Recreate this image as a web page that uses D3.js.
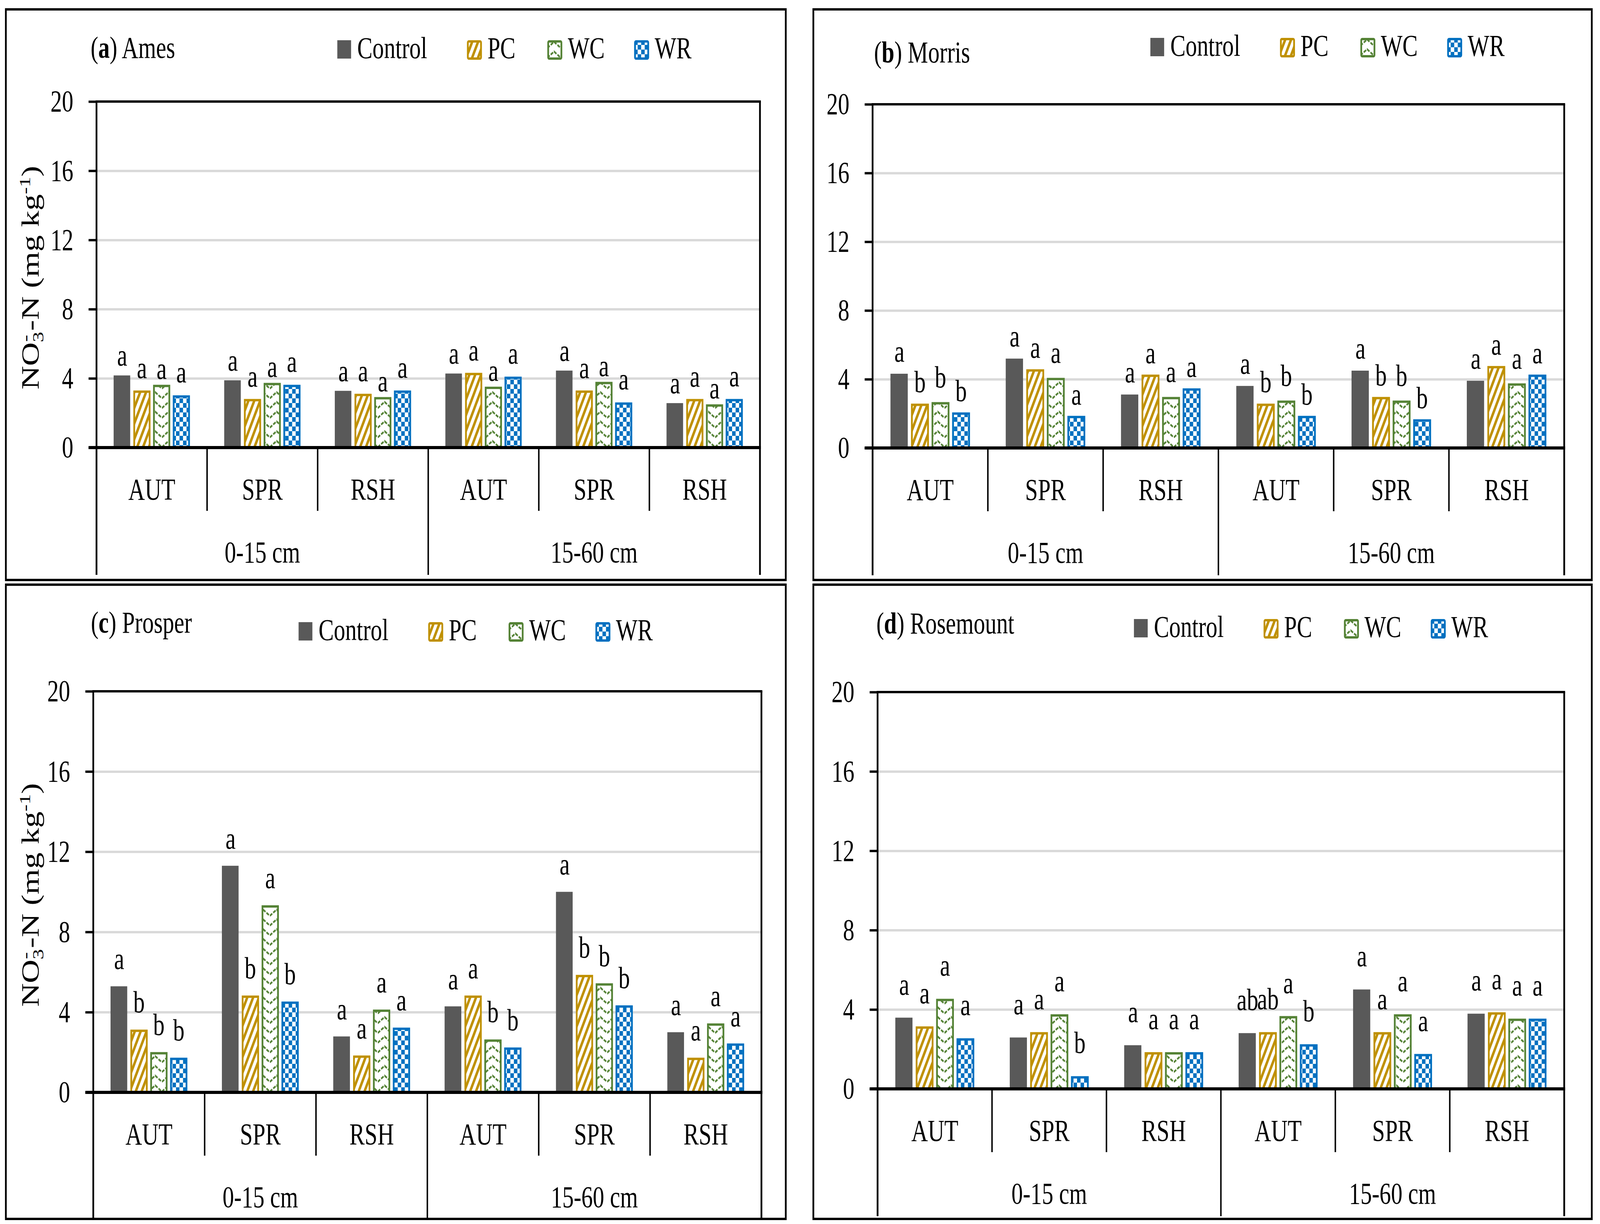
<!DOCTYPE html>
<html>
<head>
<meta charset="utf-8">
<script src="https://cdn.jsdelivr.net/npm/d3@7"></script>
<style>
  html, body { margin: 0; padding: 0; background: #fff; overflow: hidden; }
  svg { display: block; }
  text { font-family: 'Liberation Serif', 'Times New Roman', serif; fill: #000; }
</style>
</head>
<body>
<div id="chart"></div>
<script>
// ---- data ----
var treatments = ['Control', 'PC', 'WC', 'WR'];
var seasons = ['AUT', 'SPR', 'RSH'];
var depths = ['0-15 cm', '15-60 cm'];
var yTicks = [0, 4, 8, 12, 16, 20];

// rows follow treatments, columns: AUT SPR RSH (0-15 cm) then AUT SPR RSH (15-60 cm)
var ames = [
  [4.17, 3.89, 3.28, 4.28, 4.45, 2.57],
  [3.30, 2.81, 3.11, 4.32, 3.30, 2.81],
  [3.63, 3.74, 2.92, 3.52, 3.80, 2.50],
  [3.02, 3.63, 3.30, 4.10, 2.61, 2.81]
];
var amesLetters = [
  ['a', 'a', 'a', 'a', 'a', 'a'],
  ['a', 'a', 'a', 'a', 'a', 'a'],
  ['a', 'a', 'a', 'a', 'a', 'a'],
  ['a', 'a', 'a', 'a', 'a', 'a']
];
var morris = [
  [4.32, 5.20, 3.11, 3.61, 4.50, 3.91],
  [2.58, 4.58, 4.27, 2.58, 2.97, 4.77],
  [2.67, 4.08, 2.97, 2.76, 2.76, 3.76],
  [2.07, 1.87, 3.47, 1.87, 1.67, 4.27]
];
var morrisLetters = [
  ['a', 'a', 'a', 'a', 'a', 'a'],
  ['b', 'a', 'a', 'b', 'b', 'a'],
  ['b', 'a', 'a', 'b', 'b', 'a'],
  ['b', 'a', 'a', 'b', 'b', 'a']
];
var prosper = [
  [5.29, 11.30, 2.79, 4.29, 10.00, 3.00],
  [3.13, 4.83, 1.84, 4.83, 5.86, 1.73],
  [2.01, 9.33, 4.13, 2.64, 5.44, 3.44],
  [1.73, 4.53, 3.23, 2.24, 4.34, 2.44]
];
var prosperLetters = [
  ['a', 'a', 'a', 'a', 'a', 'a'],
  ['b', 'b', 'a', 'a', 'b', 'a'],
  ['b', 'a', 'a', 'b', 'b', 'a'],
  ['b', 'b', 'a', 'b', 'b', 'a']
];
var rosemount = [
  [3.59, 2.59, 2.20, 2.81, 5.01, 3.79],
  [3.15, 2.86, 1.85, 2.86, 2.86, 3.86],
  [4.54, 3.76, 1.85, 3.67, 3.76, 3.54],
  [2.55, 0.64, 1.85, 2.25, 1.76, 3.54]
];
var rosemountLetters = [
  ['a', 'a', 'a', 'ab', 'a', 'a'],
  ['a', 'a', 'a', 'ab', 'a', 'a'],
  ['a', 'a', 'a', 'a', 'a', 'a'],
  ['a', 'b', 'a', 'b', 'a', 'a']
];

// ---- layout ----
var W = 5455, H = 3134;
var colors = { Control: '#595959', PC: '#BF9000', WC: '#548235', WR: '#0070C0' };
var fills = { Control: '#595959', PC: 'url(#patPC)', WC: 'url(#patWC)', WR: 'url(#patWR)' };
var legendOffsets = [0, 442, 716, 1012];
var fontSize = 78;

var panels = [
  { tag: 'a', name: 'Ames', values: ames, letters: amesLetters,
    frame: [20, 24, 2679, 1485], plot: [329, 2591, 260, 1146],
    title: [309, 148], legend: [1150, 103], ylabel: true, lab: [25, 32, 15, 33] },
  { tag: 'b', name: 'Morris', values: morris, letters: morrisLetters,
    frame: [2773, 24, 5427, 1485], plot: [2975, 5333, 267, 1147],
    title: [2980, 160], legend: [3922, 97], ylabel: false, lab: [31, 29, 38, 29] },
  { tag: 'c', name: 'Prosper', values: prosper, letters: prosperLetters,
    frame: [20, 1497, 2679, 3121], plot: [318, 2596, 1770, 2797],
    title: [310, 1620], legend: [1018, 1593], ylabel: true, lab: [44, 44, 44, 44] },
  { tag: 'd', name: 'Rosemount', values: rosemount, letters: rosemountLetters,
    frame: [2773, 1497, 5427, 3121], plot: [2992, 5333, 1772, 2788],
    title: [2988, 1622], legend: [3866, 1585], ylabel: false, lab: [59, 59, 59, 59] }
];

// fit whatever the window really is
var vw = window.innerWidth || W, vh = window.innerHeight || H;
var svg = d3.select('#chart').append('svg')
    .attr('width', vw)
    .attr('height', vh)
    .attr('viewBox', '0 0 ' + W + ' ' + H)
    .attr('preserveAspectRatio', 'none');

svg.append('rect').attr('width', W).attr('height', H).attr('fill', '#fff');

// patterns
var defs = svg.append('defs');
var pc = defs.append('pattern').attr('id', 'patPC')
    .attr('patternUnits', 'userSpaceOnUse').attr('width', 20).attr('height', 40);
pc.append('rect').attr('width', 20).attr('height', 40).attr('fill', '#fff');
pc.append('path')
    .attr('d', 'M-10,60 L30,-20 M-10,20 L10,-20 M10,60 L30,20')
    .attr('stroke', colors.PC).attr('stroke-width', 8);

var wc = defs.append('pattern').attr('id', 'patWC')
    .attr('patternUnits', 'userSpaceOnUse').attr('width', 46).attr('height', 25);
wc.append('rect').attr('width', 46).attr('height', 25).attr('fill', '#fff');
wc.append('path')
    .attr('d', 'M0,20 L23,4 L46,20')
    .attr('fill', 'none')
    .attr('stroke', '#548235').attr('stroke-width', 5)
    .attr('stroke-dasharray', '10 4');

var wr = defs.append('pattern').attr('id', 'patWR')
    .attr('patternUnits', 'userSpaceOnUse').attr('width', 24).attr('height', 24);
wr.append('rect').attr('width', 24).attr('height', 24).attr('fill', '#fff');
wr.append('rect').attr('width', 12).attr('height', 12).attr('fill', colors.WR);
wr.append('rect').attr('x', 12).attr('y', 12).attr('width', 12).attr('height', 12).attr('fill', colors.WR);

var cats = d3.cross(depths, seasons);   // [depth, season]

function drawPanel(p) {
    var g = svg.append('g');
    var px0 = p.plot[0], px1 = p.plot[1], py0 = p.plot[2], py1 = p.plot[3];

    var y = d3.scaleLinear().domain([0, 20]).range([py1, py0]);
    var x = d3.scaleBand().domain(d3.range(cats.length)).range([px0, px1]);
    var bw = x.bandwidth();
    var xs = d3.scaleBand().domain(treatments)
        .range([0.155 * bw, 0.845 * bw]).paddingInner(0.13);

    // frame
    g.append('rect')
        .attr('x', p.frame[0]).attr('y', p.frame[1])
        .attr('width', p.frame[2] - p.frame[0]).attr('height', p.frame[3] - p.frame[1])
        .attr('fill', 'none').attr('stroke', '#000').attr('stroke-width', 6);

    // gridlines
    var grid = g.append('g').attr('transform', 'translate(' + px0 + ',0)')
        .call(d3.axisLeft(y).tickValues(yTicks.slice(1, -1)).tickSize(-(px1 - px0)).tickFormat(''));
    grid.select('.domain').remove();
    grid.selectAll('line').attr('stroke', '#D9D9D9').attr('stroke-width', 6);

    // bars
    var rows = [];
    p.values.forEach(function (row, si) {
        row.forEach(function (v, ci) {
            rows.push({ s: treatments[si], si: si, ci: ci, v: v, l: p.letters[si][ci] });
        });
    });

    g.selectAll('rect.bar')
        .data(rows)
        .enter()
        .append('rect')
        .attr('class', 'bar')
        .attr('x', function (d) { return x(d.ci) + xs(d.s) + (d.s === 'Control' ? 0 : 3); })
        .attr('y', function (d) { return y(d.v) + (d.s === 'Control' ? 0 : 3); })
        .attr('width', function (d) { return xs.bandwidth() - (d.s === 'Control' ? 2 : 6); })
        .attr('height', function (d) { return y(0) - y(d.v) - (d.s === 'Control' ? 0 : 3); })
        .attr('fill', function (d) { return fills[d.s]; })
        .attr('stroke', function (d) { return d.s === 'Control' ? 'none' : colors[d.s]; })
        .attr('stroke-width', 6);

    // letters
    g.selectAll('text.lt')
        .data(rows)
        .enter()
        .append('text')
        .attr('class', 'lt')
        .attr('x', function (d) { return x(d.ci) + xs(d.s) + xs.bandwidth() / 2; })
        .attr('y', function (d) { return y(d.v) - p.lab[d.si]; })
        .attr('text-anchor', 'middle')
        .style('font-size', fontSize + 'px')
        .text(function (d) { return d.l; });

    // y axis ticks + labels
    var ya = g.append('g').attr('transform', 'translate(' + px0 + ',0)')
        .call(d3.axisLeft(y).tickValues(yTicks).tickSize(27).tickPadding(52));
    ya.select('.domain').remove();
    ya.selectAll('line').attr('stroke', '#000').attr('stroke-width', 6);
    ya.selectAll('text')
        .attr('fill', '#000')
        .style('font-family', "'Liberation Serif', serif")
        .style('font-size', '78px');

    // plot top
    g.append('line').attr('x1', px0 - 3).attr('x2', px1 + 3).attr('y1', py0).attr('y2', py0)
        .attr('stroke', '#000').attr('stroke-width', 6);
    var outerBottom = y(0) + 326, innerBottom = y(0) + 162;

    // left axis, right border, category separators
    d3.range(cats.length + 1).forEach(function (i) {
        var xx = i < cats.length ? x(i) : px1;
        var edge = (i === 0 || i === cats.length);
        var outer = (i % 3 === 0);
        g.append('line')
            .attr('x1', xx).attr('x2', xx)
            .attr('y1', edge ? py0 : y(0)).attr('y2', outer ? outerBottom : innerBottom)
            .attr('stroke', '#000').attr('stroke-width', edge ? 6 : 5);
    });

    // zero line
    g.append('line').attr('x1', px0 - 27).attr('x2', px1 + 3).attr('y1', y(0)).attr('y2', y(0))
        .attr('stroke', '#000').attr('stroke-width', 8);

    // category labels
    g.selectAll('text.season')
        .data(cats)
        .enter()
        .append('text')
        .attr('class', 'season')
        .attr('x', function (d, i) { return x(i) + bw / 2; })
        .attr('y', y(0) + 133)
        .attr('text-anchor', 'middle')
        .style('font-size', fontSize + 'px')
        .text(function (d) { return d[1]; });

    g.selectAll('text.depth')
        .data(depths)
        .enter()
        .append('text')
        .attr('class', 'depth')
        .attr('x', function (d, i) { return x(i * 3) + bw * 1.5; })
        .attr('y', y(0) + 294)
        .attr('text-anchor', 'middle')
        .style('font-size', fontSize + 'px')
        .text(function (d) { return d; });

    // title
    var t = g.append('text')
        .attr('x', p.title[0]).attr('y', p.title[1])
        .style('font-size', fontSize + 'px');
    t.append('tspan').text('(');
    t.append('tspan').style('font-weight', 'bold').text(p.tag);
    t.append('tspan').text(') ' + p.name);

    // legend
    var lg = g.selectAll('g.leg')
        .data(treatments)
        .enter()
        .append('g')
        .attr('class', 'leg')
        .attr('transform', function (d, i) {
            return 'translate(' + [p.legend[0] + legendOffsets[i], p.legend[1]] + ')';
        });
    lg.append('rect')
        .attr('x', function (d) { return d === 'Control' ? 0 : 3; })
        .attr('y', function (d) { return d === 'Control' ? 0 : 3; })
        .attr('width', function (d) { return d === 'Control' ? 47 : 45; })
        .attr('height', function (d) { return d === 'Control' ? 47 : 44; })
        .attr('rx', function (d) { return d === 'Control' ? 0 : 3; })
        .attr('fill', function (d) { return fills[d]; })
        .attr('stroke', function (d) { return d === 'Control' ? 'none' : colors[d]; })
        .attr('stroke-width', 6);
    lg.append('text')
        .attr('x', function (d) { return d === 'Control' ? 68 : 70; })
        .attr('y', 46)
        .style('font-size', fontSize + 'px')
        .text(function (d) { return d; });

    // y label, centred on the plot by its own measured length
    if (p.ylabel) {
        var yl = g.append('text')
            .attr('transform', 'translate(' + [132, (py0 + py1) / 2] + ') rotate(-90)')
            .style('font-size', '84px');
        yl.append('tspan').text('NO');
        yl.append('tspan').attr('dy', 16).style('font-size', '54px').text('3');
        yl.append('tspan').attr('dx', -26).attr('dy', -44).style('font-size', '54px').text('-');
        yl.append('tspan').attr('dx', 10).attr('dy', 28).text('-N (mg kg');
        yl.append('tspan').attr('dy', -30).style('font-size', '54px').text('-1');
        yl.append('tspan').attr('dy', 30).text(')');
        var len = yl.node().getComputedTextLength();
        yl.attr('x', -len / 2);
        yl.select('tspan').attr('x', -len / 2);
    }
}

panels.forEach(drawPanel);
</script>
</body>
</html>
